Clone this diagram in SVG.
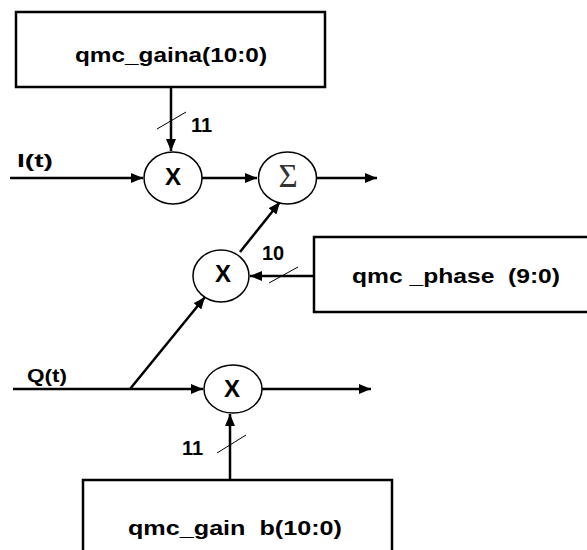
<svg xmlns="http://www.w3.org/2000/svg" width="587" height="550" viewBox="0 0 587 550">
<style>
.box{fill:#fff;stroke:#000;stroke-width:2.5}
.node{fill:#fff;stroke:#000;stroke-width:1.5}
.t{font-family:"Liberation Sans",Arial,sans-serif;font-weight:bold;fill:#000}
.c{stroke:#000;stroke-width:2.5;fill:none}
.s{stroke:#000;stroke-width:1;fill:none}
</style>
<defs>
<marker id="ah" markerUnits="userSpaceOnUse" markerWidth="13" markerHeight="10" refX="12" refY="5" orient="auto">
<path d="M0,0 L12,5 L0,10 z" fill="#000"/>
</marker>
</defs>
<rect width="587" height="550" fill="#fff"/>
<g id="connectors">
<line class="c" x1="171" y1="87" x2="171" y2="151" marker-end="url(#ah)"/>
<line class="c" x1="10" y1="178" x2="143" y2="178" marker-end="url(#ah)"/>
<line class="c" x1="202" y1="178" x2="257" y2="178" marker-end="url(#ah)"/>
<line class="c" x1="317" y1="178" x2="377" y2="178" marker-end="url(#ah)"/>
<line class="c" x1="240" y1="252" x2="280" y2="202" marker-end="url(#ah)"/>
<line class="c" x1="314" y1="276" x2="250" y2="276" marker-end="url(#ah)"/>
<line class="c" x1="13" y1="389" x2="203" y2="389" marker-end="url(#ah)"/>
<line class="c" x1="130" y1="389" x2="205" y2="297" marker-end="url(#ah)"/>
<line class="c" x1="262" y1="389" x2="371" y2="389" marker-end="url(#ah)"/>
<line class="c" x1="230" y1="480" x2="230" y2="414" marker-end="url(#ah)"/>
<line class="s" x1="157" y1="129" x2="186" y2="112"/>
<line class="s" x1="269" y1="283" x2="298" y2="267"/>
<line class="s" x1="217" y1="453" x2="246" y2="435"/>
<text class="t" x="191" y="132" font-size="20">11</text>
<text class="t" x="17" y="167" font-size="19" textLength="36" lengthAdjust="spacingAndGlyphs">I(t)</text>
<text class="t" x="27" y="382" font-size="19" textLength="40" lengthAdjust="spacingAndGlyphs">Q(t)</text>
<text class="t" x="262" y="260" font-size="20">10</text>
<text class="t" x="182" y="455" font-size="20">11</text>
</g>
<g id="gaina">
<rect class="box" x="16" y="12" width="309" height="75"/>
<text class="t" x="75" y="62" font-size="21" textLength="192" lengthAdjust="spacingAndGlyphs">qmc_gaina(10:0)</text>
</g>
<g id="mult1">
<ellipse class="node" cx="173" cy="178" rx="29" ry="26"/>
<text class="t" x="173" y="185" font-size="24" text-anchor="middle">X</text>
</g>
<g id="sum">
<ellipse class="node" cx="287.5" cy="178" rx="29" ry="26"/>
<text x="288" y="187" font-size="33" text-anchor="middle" font-family="'Liberation Serif','Times New Roman',serif" fill="#333">Σ</text>
</g>
<g id="mult2">
<ellipse class="node" cx="221" cy="276" rx="28" ry="26"/>
<text class="t" x="223" y="282" font-size="24" text-anchor="middle">X</text>
</g>
<g id="phase">
<rect class="box" x="314" y="237" width="290" height="75"/>
<text class="t" x="352" y="283" font-size="21" textLength="208" lengthAdjust="spacingAndGlyphs" xml:space="preserve">qmc _phase  (9:0)</text>
</g>
<g id="mult3">
<ellipse class="node" cx="233" cy="389" rx="29" ry="24"/>
<text class="t" x="232" y="397" font-size="24" text-anchor="middle">X</text>
</g>
<g id="gainb">
<rect class="box" x="83" y="480" width="309" height="90"/>
<text class="t" x="128" y="535" font-size="21" textLength="214" lengthAdjust="spacingAndGlyphs" xml:space="preserve">qmc_gain  b(10:0)</text>
</g>
</svg>
